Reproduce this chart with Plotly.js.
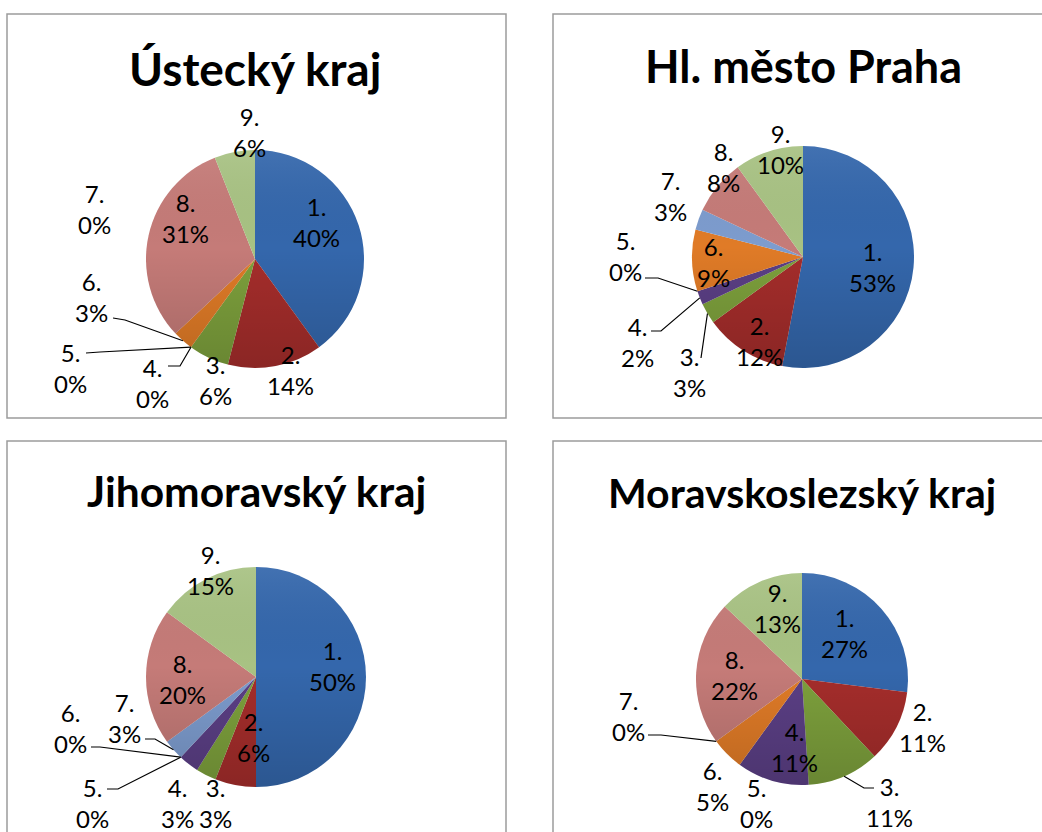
<!DOCTYPE html>
<html><head><meta charset="utf-8">
<script src="https://cdn.plot.ly/plotly-3.0.1.min.js"></script>
<style>html,body{margin:0;padding:0;background:#fff;} #chart{width:1042px;height:832px;}</style>
</head><body><div id="chart"></div>
<script>
// ---- data ----
const categories = ['1.', '2.', '3.', '4.', '5.', '6.', '7.', '8.', '9.'];
const regionTitles = ['Ústecký kraj', 'Hl. město Praha', 'Jihomoravský kraj', 'Moravskoslezský kraj'];
const usteckyValues = [40, 14, 6, 0, 0, 3, 0, 31, 6];
const prahaValues = [53, 12, 3, 2, 0, 9, 3, 8, 10];
const jihomoravskyValues = [50, 6, 3, 3, 0, 0, 3, 20, 15];
const moravskoslezskyValues = [27, 11, 11, 11, 0, 5, 0, 22, 13];

// ---- styles / placement ----
const W = 1042, H = 832;
const sliceColors = ['#3467AC', '#A52D2B', '#7DA03C', '#5B3F85', '#3F9CB4', '#E07B27', '#7D9CCE', '#C57B78', '#A8C283'];
const panels = [
  { values: usteckyValues, cx: 255, cy: 259, r: 109, box: [7, 14, 506, 418], titleY: 69, titleSize: 46,
    labelOffsets: [[61,-37],[35,111],[-40,121],[-103,124],[-185,109],[-164,38],[-161,-50],[-69,-41],[-6,-127]],
    leaders: {3: [[-87,107],[-75,107]], 4: [[-169,94],[-155,93]], 5: [[-142,59],[-130,61]]} },
  { values: prahaValues, cx: 803, cy: 257, r: 111, box: [553, 14, 1046, 418], titleY: 66, titleSize: 45,
    labelOffsets: [[69,10],[-44,84],[-114,115],[-166,85],[-178,-1],[-90,5],[-133,-61],[-80,-90],[-23,-108]],
    leaders: {2: [[-102,101],[-102,101]], 3: [[-152,74],[-142,74]], 4: [[-158,21],[-145,21]]} },
  { values: jihomoravskyValues, cx: 256, cy: 677, r: 110, box: [7, 441, 506, 836], titleY: 490, titleSize: 42.5,
    labelOffsets: [[76,-11],[-3,60],[-41,126],[-79,126],[-164,126],[-186,51],[-132,41],[-74,2],[-46,-107]],
    leaders: {4: [[-149,112],[-138,112]], 5: [[-165,70],[-156,70]], 6: [[-111,62],[-101,62]]} },
  { values: moravskoslezskyValues, cx: 802, cy: 679, r: 106, box: [553, 441, 1046, 836], titleY: 493, titleSize: 41,
    labelOffsets: [[42,-46],[120,48],[87,123],[-8,68],[-46,124],[-90,107],[-174,37],[-68,-4],[-25,-71]],
    leaders: {2: [[72,109],[62,109]], 6: [[-154,56],[-141,56]]} }
];

const px = x => x / W;
const py = y => 1 - y / H;

const overlaySvg = "<svg xmlns='http://www.w3.org/2000/svg' width='200' height='200' viewBox='0 0 200 200'>" +
  "<defs><linearGradient id='g' x1='0' y1='0' x2='0' y2='1'>" +
  "<stop offset='0' stop-color='#ffffff' stop-opacity='0.07'/>" +
  "<stop offset='0.45' stop-color='#000000' stop-opacity='0'/>" +
  "<stop offset='1' stop-color='#000000' stop-opacity='0.16'/>" +
  "</linearGradient></defs><circle cx='100' cy='100' r='100' fill='url(#g)'/></svg>";
const overlaySrc = 'data:image/svg+xml;charset=utf-8,' + encodeURIComponent(overlaySvg);

const data = [], annotations = [], shapes = [], images = [];
const labelFont = { family: 'Lato, "Open Sans", sans-serif', size: 24, color: '#000000' };

panels.forEach((p, k) => {
  const total = p.values.reduce((a, b) => a + b, 0);
  data.push({
    type: 'pie', values: p.values, labels: categories, sort: false, direction: 'clockwise',
    rotation: 0, textinfo: 'none', hoverinfo: 'label+percent', showlegend: false,
    marker: { colors: sliceColors, line: { width: 0 } },
    domain: { x: [px(p.cx - p.r), px(p.cx + p.r)], y: [py(p.cy + p.r), py(p.cy - p.r)] }
  });
  images.push({ source: overlaySrc, xref: 'paper', yref: 'paper', x: px(p.cx - p.r), y: py(p.cy - p.r),
    sizex: 2 * p.r / W, sizey: 2 * p.r / H, xanchor: 'left', yanchor: 'top', sizing: 'stretch', layer: 'above' });
  // panel border
  shapes.push({ type: 'rect', xref: 'paper', yref: 'paper', x0: px(p.box[0]), x1: px(p.box[2]),
    y0: py(p.box[3]), y1: py(p.box[1]), line: { color: '#9c9c9c', width: 1.5 }, fillcolor: 'rgba(0,0,0,0)' });
  // title
  annotations.push({ text: regionTitles[k], xref: 'paper', yref: 'paper', x: px(p.cx), y: py(p.titleY),
    xanchor: 'center', yanchor: 'middle', showarrow: false,
    font: { family: 'Lato, "Open Sans", sans-serif', size: p.titleSize, weight: 700, color: '#000000' } });
  // labels
  let cum = 0;
  p.values.forEach((v, i) => {
    const pct = Math.round(v / total * 100);
    const mid = (cum + v / 2) / total * 2 * Math.PI;
    cum += v;
    const off = p.labelOffsets[i];
    annotations.push({ text: categories[i] + '<br>' + pct + '%', xref: 'paper', yref: 'paper',
      x: px(p.cx + off[0]), y: py(p.cy + off[1]), xanchor: 'center', yanchor: 'middle',
      showarrow: false, font: labelFont });
    const ld = p.leaders[i];
    if (ld) {
      const ex = p.cx + p.r * Math.sin(mid), ey = p.cy - p.r * Math.cos(mid);
      const pts = [[p.cx + ld[0][0], p.cy + ld[0][1]], [p.cx + ld[1][0], p.cy + ld[1][1]], [ex, ey]];
      const path = 'M ' + pts.map(q => px(q[0]) + ',' + py(q[1])).join(' L ');
      shapes.push({ type: 'path', xref: 'paper', yref: 'paper', path: path, line: { color: '#000000', width: 1.2 } });
    }
  });
});

const layout = {
  width: W, height: H, margin: { l: 0, r: 0, t: 0, b: 0 },
  paper_bgcolor: '#ffffff', plot_bgcolor: '#ffffff', showlegend: false,
  annotations: annotations, shapes: shapes, images: images
};
Plotly.newPlot('chart', data, layout, { displayModeBar: false, staticPlot: true });
</script></body></html>
